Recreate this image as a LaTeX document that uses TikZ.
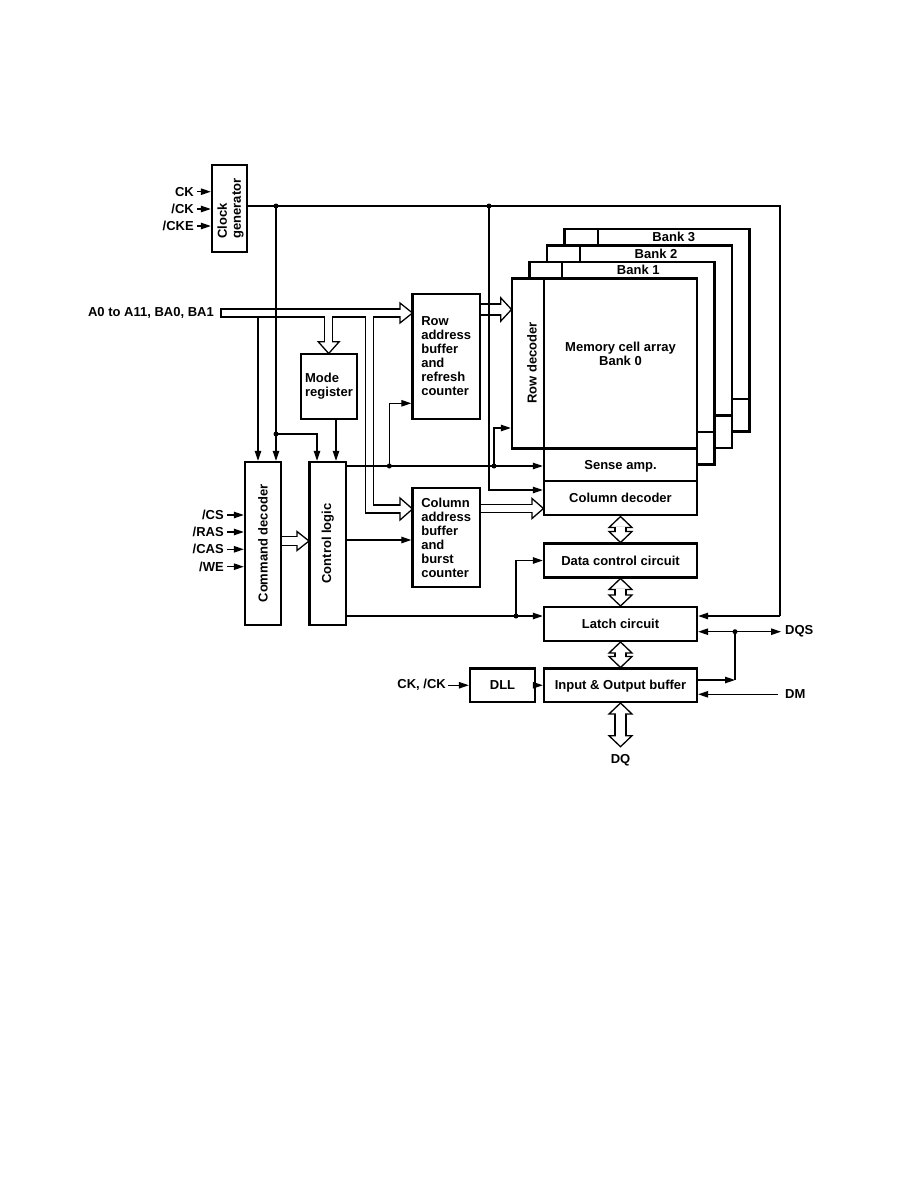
\documentclass[tikz,border=0pt]{standalone}
\usepackage{fontspec}
\setmainfont{Liberation Sans}
\usetikzlibrary{arrows.meta}
\newcommand\vdbl[3]{%
  \draw[line width=12.2pt] (#1,#2+11) -- (#1,#3-11);
  \draw[hol] (#1-11.5,#2+11) -- (#1,#2) -- (#1+11.5,#2+11) -- cycle;
  \draw[hol] (#1-11.5,#3-11) -- (#1,#3) -- (#1+11.5,#3-11) -- cycle;
  \draw[white, line width=9.8pt] (#1,#2+10) -- (#1,#3-10);
}
\begin{document}
\begin{tikzpicture}[x=1pt,y=-1pt,
  every node/.style={font=\fontsize{13}{14}\selectfont\bfseries, inner sep=0pt},
  box/.style={draw, line width=2.4pt, fill=white},
  one/.style={text height=12pt, text depth=2.7pt},
  wire/.style={line width=1.2pt},
  arr/.style={wire, -{Triangle[length=10pt,width=6.5pt]}},
  hol/.style={draw, fill=white, line width=1.3pt, line join=miter},
  dot/.style={circle, fill=black, minimum size=5pt, inner sep=0pt},
]
\fill[white] (0,0) rectangle (918,1188);
\useasboundingbox (0,0) rectangle (918,1188);

% ---------- back banks ----------
\foreach \k in {3,2,1} {
  \pgfmathsetmacro\L{512+17.5*\k}
  \pgfmathsetmacro\T{278.5-16.5*\k}
  \pgfmathsetmacro\R{697+17.5*\k}
  \pgfmathsetmacro\B{448.5-16.5*\k}
  \pgfmathsetmacro\S{481-16.5*\k}
  \pgfmathsetmacro\D{544+18*\k}
  \draw[box] (\L,\T) rectangle (\R,\B);
  \draw[box] (\D,\B) rectangle (\R,\S);
  \draw[line width=2.4pt] (\D,\T) -- (\D,\B);
  \node (bank\k) at ({(\D+\R)/2},{\T+8.25}) {Bank \k};
}

% ---------- bank 0 ----------
\node[box, minimum width=32, minimum height=170] (rowdec) at (528,363.5) {};
\node[box, minimum width=153, minimum height=170] (array) at (620.5,363.5) {};
\node[rotate=90] (rowdectxt) at (532,363) {Row decoder};
\node[align=center] (arraytxt) at (620.5,354) {Memory cell array\\Bank 0};
\node[box, one, minimum width=153, minimum height=32.5] (sense) at (620.5,464.75) {Sense amp.};
\node[box, one, minimum width=153, minimum height=34] (coldec) at (620.5,498) {Column decoder};
\node[box, one, minimum width=153, minimum height=34] (datac) at (620.5,560.5) {Data control circuit};
\node[box, one, minimum width=153, minimum height=34] (latch) at (620.5,624) {Latch circuit};
\node[box, one, minimum width=153, minimum height=33.5] (iobuf) at (620.5,685.25) {Input \& Output buffer};
\node[box, one, minimum width=65, minimum height=33.5] (dll) at (502.5,685.25) {DLL};

% ---------- left blocks ----------
\node[box, minimum width=35, minimum height=87] (clk) at (229.5,208.5) {};
\node[rotate=90, align=left] (clktxt) at ([xshift=1pt]clk.center) {Clock\\generator};
\node[box, minimum width=36, minimum height=163] (cmd) at (263,543.5) {};
\node[rotate=90] (cmdtxt) at (cmd.center) {Command decoder};
\node[box, minimum width=36.5, minimum height=163] (ctl) at (327.75,543.5) {};
\node[rotate=90] (ctltxt) at (ctl.center) {Control logic};
\node[box, minimum width=56, minimum height=65, align=left] (mode) at (329,386.5) {Mode\\register};
\node[box, minimum width=67.5, minimum height=125, align=left] (rowbuf) at (446.25,356.5) {Row\\address\\buffer\\and\\refresh\\counter};
\node[box, minimum width=67.5, minimum height=99, align=left] (colbuf) at (446.25,537.5) {Column\\address\\buffer\\and\\burst\\counter};

% ---------- labels ----------
\node[anchor=east] (ckL) at (194,191.7) {CK};
\node[anchor=east] (nckL) at (194,209) {/CK};
\node[anchor=east] (ckeL) at (194,226) {/CKE};
\node[anchor=east] (addrL) at (214,313) {A0 to A11, BA0, BA1};
\node[anchor=east] (csL) at (224,515) {/CS};
\node[anchor=east] (rasL) at (224,532) {/RAS};
\node[anchor=east] (casL) at (224,549.3) {/CAS};
\node[anchor=east] (weL) at (224,566.7) {/WE};
\node[anchor=east] (ckdll) at (446,685.25) {CK, /CK};
\node[anchor=west] (dqsL) at (785,631.7) {DQS};
\node[anchor=west] (dmL) at (785,694.3) {DM};
\node (dqL) at (620.5,760) {DQ};

% ---------- hollow buses ----------
\draw[line width=9.3pt] (220.4,313) -- (400,313);
\draw[line width=9.3pt] (328.7,313) -- (328.7,341.7);
\draw[line width=9.3pt, line join=miter] (369.5,313) -- (369.5,509) -- (400,509);
\draw[hol] (400,303) -- (412.5,313) -- (400,323) -- cycle;
\draw[hol] (318.2,341.7) -- (328.7,353.5) -- (339.2,341.7) -- cycle;
\draw[hol] (400,498) -- (412.5,509) -- (400,520) -- cycle;
\draw[white, line width=6.7pt] (221.7,313) -- (401,313);
\draw[white, line width=6.7pt] (328.7,313) -- (328.7,342.7);
\draw[white, line width=6.7pt, line join=miter] (369.5,313) -- (369.5,509) -- (401,509);

% row buffer -> row decoder
\draw[line width=12.3pt] (480,309.5) -- (500.7,309.5);
\draw[hol] (500.7,297.8) -- (511.5,309.5) -- (500.7,321.2) -- cycle;
\draw[white, line width=9.7pt] (481.3,309.5) -- (501.7,309.5);
% column buffer -> column decoder
\draw[line width=9.3pt] (480,508.5) -- (532,508.5);
\draw[hol] (532,498.5) -- (543.5,508.5) -- (532,518.5) -- cycle;
\draw[white, line width=6.7pt] (481.3,508.5) -- (533,508.5);
% command decoder -> control logic
\draw[line width=9.8pt] (281,541) -- (297,541);
\draw[hol] (297,531.5) -- (309,541) -- (297,550.5) -- cycle;
\draw[white, line width=7.2pt] (282.3,541) -- (298,541);

% double arrows
\vdbl{620.5}{516.5}{542.5}
\vdbl{620.5}{578.5}{606}
\vdbl{620.5}{642}{667.5}
\vdbl{620.5}{703}{746.7}

% ---------- wires ----------
\coordinate (c1) at (276,206);
\coordinate (c2) at (489,206);
\coordinate (c3) at (780,206);
\coordinate (c4) at (780,616);
\coordinate (d1) at (276,434);
\coordinate (d1b) at (317,434);
\coordinate (t1) at (258,317.6);
\coordinate (m1) at (336,419);
\coordinate (e1) at (489,490);
\coordinate (j1) at (389.3,466);
\coordinate (j1b) at (389.3,403.3);
\coordinate (j2) at (494,466);
\coordinate (j2b) at (494,428);
\coordinate (k1) at (346,540);
\coordinate (l1) at (516,616);
\coordinate (l1b) at (516,560.5);
\coordinate (q1) at (735,631.7);
\coordinate (q2) at (735,680);
\coordinate (dm1) at (778,694.3);

\draw[arr] ([xshift=3pt]ckL.east) -- (clk.west |- ckL.east);
\draw[arr] ([xshift=3pt]nckL.east) -- (clk.west |- nckL.east);
\draw[arr] ([xshift=3pt]ckeL.east) -- (clk.west |- ckeL.east);
\draw[arr] ([xshift=3pt]csL.east) -- (cmd.west |- csL.east);
\draw[arr] ([xshift=3pt]rasL.east) -- (cmd.west |- rasL.east);
\draw[arr] ([xshift=3pt]casL.east) -- (cmd.west |- casL.east);
\draw[arr] ([xshift=3pt]weL.east) -- (cmd.west |- weL.east);

\draw[wire] (clk.east |- c1) -- (c3) -- (c4);
\draw[arr] (c4) -- (latch.east |- c4);
\draw[arr] (c1) -- (cmd.north -| c1);
\draw[arr] (d1) -- (d1b) -- (ctl.north -| d1b);
\draw[arr] (t1) -- (cmd.north -| t1);
\draw[arr] (m1) -- (ctl.north -| m1);
\draw[arr] (c2) -- (e1) -- (coldec.west |- e1);
\draw[arr] (ctl.east |- j1) -- (sense.west |- j1);
\draw[arr] (j1) -- (j1b) -- (rowbuf.west |- j1b);
\draw[arr] (j2) -- (j2b) -- (rowdec.west |- j2b);
\draw[arr] (ctl.east |- k1) -- (colbuf.west |- k1);
\draw[arr] (ctl.east |- l1) -- (latch.west |- l1);
\draw[arr] (l1) -- (l1b) -- (datac.west |- l1b);
\draw[arr] (q1) -- (latch.east |- q1);
\draw[arr] (q1) -- ([xshift=-4pt]dqsL.west);
\draw[wire] (q1) -- (q2);
\draw[arr] (iobuf.east |- q2) -- (q2);
\draw[arr] (dm1) -- (iobuf.east |- dm1);
\draw[arr] ([xshift=2pt]ckdll.east) -- (dll.west);
\draw[arr] (dll.east) -- (iobuf.west);

\foreach \p in {c1,c2,d1,j1,j2,l1,q1} \node[dot] (dot\p) at (\p) {};
\end{tikzpicture}
\end{document}
